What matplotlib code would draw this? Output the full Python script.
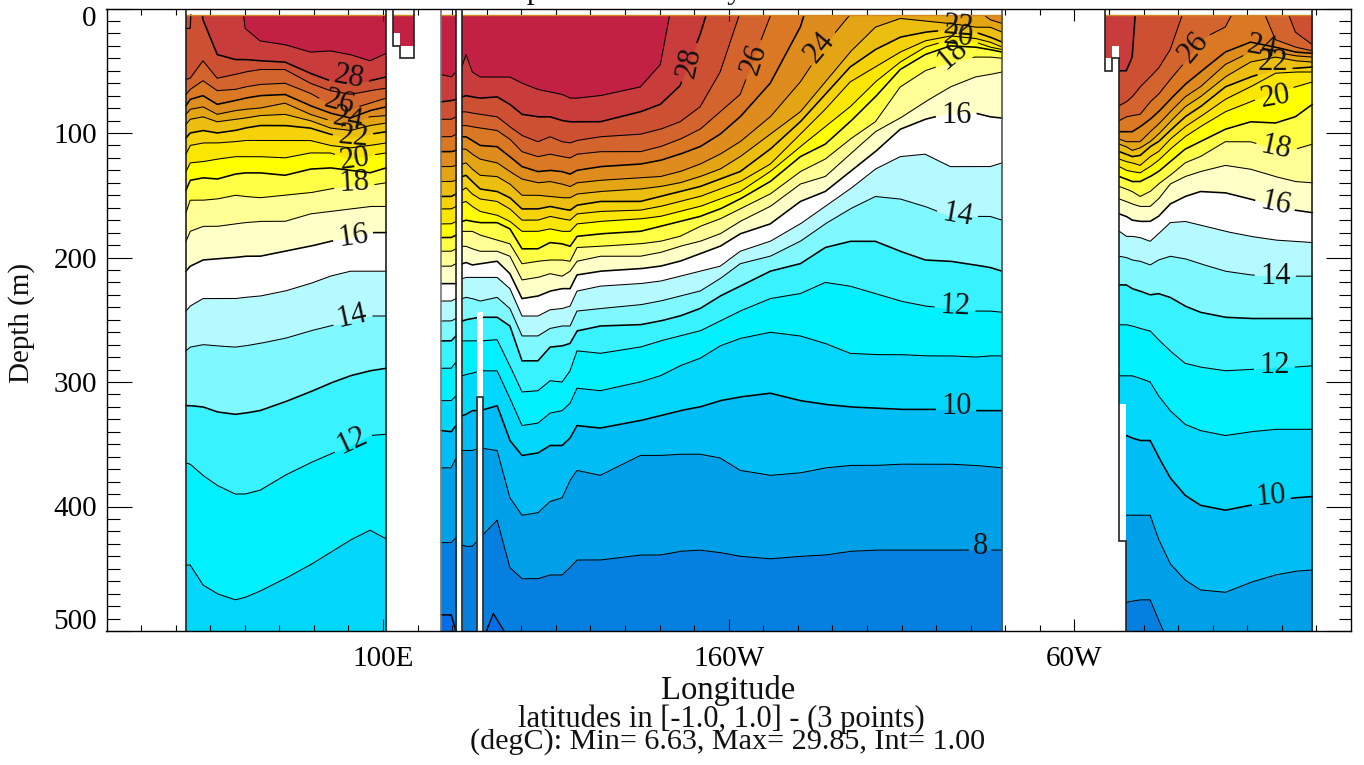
import numpy as np
import matplotlib
matplotlib.use("Agg")
import matplotlib.pyplot as plt
from matplotlib.patches import Rectangle
from matplotlib.transforms import ScaledTranslation

plt.rcParams['font.family'] = ['Liberation Serif', 'DejaVu Serif']

# Colour of each band, keyed by the isotherm at its warm side (degC)
BAND = {6: '#056EE8', 7: '#0580E0', 8: '#00A0E8', 9: '#00BEF5', 10: '#00D7FA', 11: '#00F0FF',
        12: '#38F3FF', 13: '#80F8FF', 14: '#B4FAFF', 15: '#FFFFFF', 16: '#FFFFC8', 17: '#FFFF96',
        18: '#FFFF46', 19: '#FFFF00', 20: '#FAE600', 21: '#F5D20A', 22: '#EBBE0F', 23: '#E4A514',
        24: '#DE8C1E', 25: '#DA7823', 26: '#D4642D', 27: '#CD5032', 28: '#C83C3C', 29: '#C32144'}

# Isotherm depths (m) by longitude; negative depth = isotherm outcrops at that longitude
# ---- Indian Ocean
lon_a = [43.0, 44.2, 47.9, 52.0, 57.2, 60.1, 64.4, 71.6, 78.9, 84.7, 90.5, 96.2, 100.9]
a29 = [-50, -50, -50, -50, -50, 16, 26, 29, 35, 34, 37, 42, 36]
a28 = [-50, -50, 9, 37, 41, 41, 42, 43, 52, 58, 60, 58, 55]
a27 = [57, 56, 42, 56, 53, 51, 49, 49, 60, 66, 69, 66, 64]
a26 = [69, 65, 58, 66, 65, 63, 61, 60, 68, 77, 81, 76, 72]
a25 = [78, 73, 70, 77, 74, 72, 70, 69, 78, 84, 88, 82, 79]
a24 = [85, 81, 79, 85, 82, 81, 80, 76, 85, 90, 93, 87, 86]
a23 = [93, 89, 87, 91, 89, 88, 86, 85, 90, 96, 98, 94, 92]
a22 = [104, 100, 98, 100, 98, 96, 94, 94, 96, 101, 104, 101, 99]
a21 = [117, 110, 108, 108, 107, 106, 106, 106, 106, 110, 112, 110, 108]
a20 = [131, 124, 123, 121, 119, 119, 119, 120, 116, 116, 121, 118, 116]
a19 = [146, 138, 136, 137, 133, 132, 132, 134, 129, 128, 130, 132, 128]
a18 = [164, 154, 154, 153, 150, 151, 152, 150, 148, 145, 142, 142, 140]
a17 = [187, 179, 175, 175, 173, 172, 171, 171, 165, 163, 161, 159, 159]
a16 = [211, 207, 202, 201, 200, 199, 199, 195, 191, 187, 184, 180, 180]
a15 = [243, 239, 233, 233, 233, 232, 231, 227, 221, 215, 211, 211, 211]
a14 = [275, 272, 270, 271, 272, 271, 269, 265, 259, 255, 251, 247, 247]
a13 = [319, 319, 320, 324, 326, 325, 323, 316, 308, 301, 295, 291, 289]
a12 = [365, 366, 375, 383, 390, 390, 387, 375, 365, 358, 351, 343, 342]
a11 = [447, 447, 463, 470, 475, 473, 468, 458, 447, 437, 427, 419, 426]
panel_a = {29: a29, 28: a28, 27: a27, 26: a26, 25: a25, 24: a24, 23: a23, 22: a22, 21: a21,
           20: a20, 19: a19, 18: a18, 17: a17, 16: a16, 15: a15, 14: a14, 13: a13, 12: a12, 11: a11}
# small closed contour in the north-west corner of the section
corner_lon = [43.0, 44.2, 44.4]
corner_dep = [16, 16, 5]

# ---- Sliver near 120E
lon_b = [116.8, 119.7, 121.1]
b29 = [53, 55, 51]
b28 = [75, 74, 73]
b27 = [89, 89, 87]
b26 = [103, 103, 101]
b25 = [115, 115, 114]
b24 = [127, 127, 126]
b23 = [139, 139, 138]
b22 = [151, 151, 149]
b21 = [161, 161, 159]
b20 = [173, 173, 171]
b19 = [184, 184, 182]
b18 = [195, 195, 193]
b17 = [207, 207, 205]
b16 = [221, 221, 221]
b15 = [235, 235, 233]
b14 = [251, 251, 249]
b13 = [267, 267, 263]
b12 = [289, 289, 284]
b11 = [315, 315, 311]
b10 = [339, 340, 335]
b9 = [369, 369, 361]
b8 = [429, 429, 425]
b7 = [487, 487, 500]
panel_b = {29: b29, 28: b28, 27: b27, 26: b26, 25: b25, 24: b24, 23: b23, 22: b22, 21: b21, 20: b20,
           19: b19, 18: b18, 17: b17, 16: b16, 15: b15, 14: b14, 13: b13, 12: b12, 11: b11, 10: b10,
           9: b9, 8: b8, 7: b7}

# ---- Pacific
lon_c = [122.9, 124.0, 125.8, 128.1, 133.0, 136.7, 140.2, 144.8, 148.3, 151.8, 154.1, 156.1, 162.8, 174.4,
         180.2, 185.9, 191.7, 197.5, 203.3, 212.0, 220.7, 227.9, 235.1, 242.4, 249.6, 256.8, 264.1, 271.3, 275.6, 279.1]
c29 = [46, 37, 51, 55, 55, 55, 60, 65, 67, 69, 72, 72, 70, 63, 45, -39] + [-50] * 14
c28 = [71, 70, 71, 72, 71, 77, 85, 87, 87, 90, 91, 91, 91, 83, 77, 62, 21, -31] + [-50] * 12
c27 = [83, 83, 84, 85, 87, 95, 102, 107, 103, 107, 108, 106, 103, 101, 97, 91, 79, 51, 3] + [-50] * 11
c26 = [94, 94, 95, 96, 98, 105, 115, 119, 117, 119, 120, 117, 115, 115, 111, 105, 97, 83, 69, 6] + [-50] * 10
c25 = [103, 103, 106, 110, 111, 119, 127, 131, 130, 131, 133, 130, 127, 125, 122, 117, 111, 101, 87, 60, 15] + [-50] * 9
c24 = [113, 113, 117, 121, 124, 131, 137, 140, 139, 141, 143, 140, 138, 136, 135, 131, 125, 117, 107, 87, 59, 29, 5, -50, -50, -50, -50, 0, 9, 12]
c23 = [125, 124, 129, 134, 135, 141, 150, 150, 151, 152, 152, 149, 147, 145, 143, 140, 135, 129, 119, 101, 83, 59, 35, 15, 8, 10, 12, 15, 15, 19]
c22 = [135, 134, 139, 145, 147, 152, 161, 161, 159, 161, 162, 158, 155, 155, 151, 147, 143, 137, 131, 113, 91, 69, 47, 33, 23, 19, 17, 19, 23, 27]
c21 = [146, 144, 149, 153, 155, 161, 170, 170, 167, 169, 170, 165, 163, 162, 159, 155, 151, 145, 139, 125, 101, 81, 59, 47, 35, 26, 22, 24, 27, 31]
c20 = [156, 155, 159, 163, 166, 171, 179, 179, 177, 179, 179, 173, 171, 169, 167, 163, 159, 153, 147, 131, 111, 95, 79, 59, 43, 31, 25, 27, 31, 33]
c19 = [171, 170, 171, 172, 172, 177, 193, 193, 188, 189, 191, 183, 181, 179, 175, 171, 167, 161, 153, 139, 119, 109, 91, 71, 49, 37, 30, 31, 33, 35]
c18 = [179, 179, 179, 182, 186, 189, 205, 203, 202, 202, 203, 192, 191, 189, 187, 183, 175, 169, 161, 149, 131, 121, 105, 91, 63, 50, 43, 39, 39, 40]
c17 = [191, 191, 193, 195, 195, 199, 218, 216, 213, 215, 211, 203, 199, 199, 196, 191, 187, 181, 171, 159, 141, 135, 117, 99, 88, 75, 63, 55, 53, 51]
c16 = [205, 204, 206, 205, 203, 213, 233, 231, 227, 225, 225, 214, 211, 209, 207, 203, 197, 191, 181, 173, 155, 147, 131, 115, 97, 89, 84, 84, 87, 88]
c15 = [217, 216, 216, 216, 216, 225, 247, 247, 242, 241, 239, 227, 223, 221, 219, 215, 211, 207, 195, 187, 173, 159, 145, 129, 119, 117, 127, 127, 127, 124]
c14 = [233, 232, 233, 235, 232, 241, 263, 263, 257, 255, 255, 243, 241, 238, 235, 231, 227, 217, 205, 199, 187, 173, 161, 151, 153, 159, 167, 167, 167, 170]
c13 = [251, 250, 249, 248, 248, 255, 283, 283, 272, 271, 269, 259, 255, 254, 251, 247, 241, 231, 223, 211, 205, 192, 187, 187, 195, 202, 203, 206, 208, 211]
c12 = [267, 267, 267, 267, 266, 287, 308, 307, 299, 300, 291, 275, 277, 272, 267, 263, 259, 251, 243, 233, 229, 220, 223, 229, 235, 239, 241, 243, 243, 244]
c11 = [295, 294, 293, 291, 291, 313, 335, 333, 325, 323, 317, 305, 307, 300, 295, 287, 281, 271, 265, 260, 263, 269, 277, 278, 278, 279, 279, 280, 279, 279]
c10 = [327, 326, 323, 323, 319, 347, 359, 357, 351, 351, 345, 335, 337, 331, 327, 323, 320, 315, 312, 309, 315, 318, 320, 321, 322, 322, 322, 323, 323, 323]
c9 = [355, 355, 355, 353, 355, 393, 407, 405, 396, 393, 379, 371, 375, 359, 359, 358, 358, 361, 371, 375, 373, 369, 367, 367, 366, 366, 366, 367, 368, 369]
c8 = [431, 432, 432, 425, 411, 449, 458, 458, 455, 455, 449, 443, 443, 439, 439, 436, 435, 437, 440, 442, 440, 439, 436, 435, 435, 435, 435, 435, 435, 435]
panel_c = {29: c29, 28: c28, 27: c27, 26: c26, 25: c25, 24: c24, 23: c23, 22: c22, 21: c21, 20: c20,
           19: c19, 18: c18, 17: c17, 16: c16, 15: c15, 14: c14, 13: c13, 12: c12, 11: c11, 10: c10,
           9: c9, 8: c8}
# closed 7 degC contour at the sea floor of the Pacific section
lon_c7 = [129.9, 131.9, 135.0]
c7 = [500, 486, 500]

# ---- Atlantic
lon_d = [308.9, 313.0, 315.0, 316.7, 319.0, 321.9, 324.3, 327.7, 332.0, 336.4, 343.6, 350.9, 358.1, 363.9, 368.8]
d29 = [-50] * 15
d28 = [50, 50, 50, 39] + [-50] * 11
d27 = [78, 78, 75, 71, 63, 55, 48, 33, -1, -50, -50, -50, -23, 19, 29]
d26 = [90, 90, 87, 86, 85, 75, 69, 57, 43, 25, 15, -23, 25, 31, 34]
d25 = [99, 99, 99, 99, 95, 89, 83, 73, 61, 51, 35, 27, 31, 35, 36]
d24 = [105, 105, 107, 107, 107, 99, 93, 83, 71, 63, 45, 35, 35, 38, 39]
d23 = [109, 109, 111, 114, 112, 107, 101, 91, 79, 71, 55, 43, 39, 42, 43]
d22 = [115, 115, 117, 119, 118, 111, 107, 98, 87, 79, 63, 55, 49, 48, 47]
d21 = [121, 121, 123, 124, 126, 119, 115, 105, 95, 87, 73, 63, 52, 51, 51]
d20 = [127, 127, 130, 131, 132, 127, 122, 113, 103, 95, 83, 75, 67, 63, 59]
d19 = [135, 135, 137, 139, 139, 135, 131, 123, 113, 107, 97, 91, 92, 87, 77]
d18 = [143, 143, 145, 147, 151, 147, 141, 134, 124, 119, 107, 107, 113, 113, 109]
d17 = [153, 153, 155, 157, 159, 159, 153, 141, 135, 131, 126, 129, 135, 139, 140]
d16 = [165, 165, 167, 170, 171, 171, 167, 157, 151, 147, 148, 153, 159, 162, 164]
d15 = [179, 179, 183, 183, 184, 187, 181, 172, 171, 174, 179, 183, 186, 187, 188]
d14 = [199, 199, 200, 202, 203, 206, 202, 199, 201, 205, 211, 214, 215, 215, 215]
d13 = [222, 222, 222, 225, 227, 230, 229, 232, 239, 244, 248, 249, 249, 249, 249]
d12 = [254, 254, 254, 255, 257, 259, 266, 275, 285, 288, 291, 290, 288, 288, 287]
d11 = [295, 295, 295, 295, 297, 300, 311, 323, 334, 339, 343, 340, 338, 338, 338]
d10 = [343, 343, 343, 345, 347, 347, 360, 377, 391, 399, 403, 399, 395, 393, 392]
d9 = [407, 407, 407, 407, 407, 407, 426, 446, 459, 467, 469, 461, 455, 452, 451]
d8 = [477, 477, 477, 476, 475, 475, 491, 512] + [540] * 7
panel_d = {29: d29, 28: d28, 27: d27, 26: d26, 25: d25, 24: d24, 23: d23, 22: d22, 21: d21, 20: d20,
           19: d19, 18: d18, 17: d17, 16: d16, 15: d15, 14: d14, 13: d13, 12: d12, 11: d11, 10: d10,
           9: d9, 8: d8}

# Land mask outlines (longitude, depth)
land_a_lon = [102.9, 102.9, 104.9, 104.9, 109.0, 109.0]
land_a_dep = [0, 30, 30, 40, 40, 0]
land_bc_lon = [121.1, 122.9]
land_strip_lon = [127.2, 128.9]
land_strip_top = 244
land_strip_box = 312
land_d_lon = [308.9, 308.9, 310.9, 310.9, 313.0, 313.0, 315.0, 315.0]
land_d_dep = [0, 50, 50, 40, 40, 428, 428, 500]

# Contour labels: text, lon, depth, rotation
lab_text = ['28', '26', '24', '22', '20', '18', '16', '14', '12',
            '28', '26', '24', '22', '20', '18', '16', '14', '12', '10', '8',
            '26', '24', '22', '20', '18', '16', '14', '12', '10']
lab_lon = [90.2, 87.3, 89.9, 91.3, 91.9, 91.6, 91.3, 91.0, 91.0,
           188.5, 207.3, 226.4, 266.4, 266.4, 264.6, 265.8, 266.1, 265.5, 265.8, 272.7,
           334.4, 354.3, 357.5, 358.1, 358.4, 358.1, 358.1, 357.8, 356.7]
lab_dep = [55, 76, 89, 103, 121, 140, 183, 247, 347,
           43, 41, 31, 15, 23, 37, 86, 166, 239, 320, 432,
           31, 31, 43, 71, 112, 157, 215, 287, 392]
lab_rot = [-10, -15, -10, -5, 8, 3, 8, 12, 25,
           78, 72, 50, -5, -5, 40, 0, -10, -3, 0, 0,
           50, -10, 0, 10, -12, -12, 0, 0, 5]

xtick_major = [100, 200, 300]
xtick_labels = ['100E', '160W', '60W']
ytick_major = [0, 100, 200, 300, 400, 500]

W, H = 1364, 765
fig = plt.figure(figsize=(W / 100, H / 100), dpi=100)
ax = fig.add_axes([106.5 / W, 1 - 631 / H, (1351 - 106.5) / W, (631 - 8.5) / H])
ax.set_xlim(20, 380)
ax.set_ylim(500, 0)

clip = Rectangle((20, 5), 360, 495, transform=ax.transData)
PX_LON = (1351 - 106.5) / 360
PX_DEP = (631 - 8.5) / 500


def is_thick(t):
    return (t - 1) % 3 == 0


def broken_line(lon, dep, t):
    """The isotherm with a gap where its own number is written."""
    xs = np.union1d(lon, np.linspace(lon[0], lon[-1], 1500))
    ys = np.interp(xs, lon, dep)
    for s, lx, ly in zip(lab_text, lab_lon, lab_dep):
        if int(s) == t and lon[0] <= lx <= lon[-1]:
            dist = np.hypot((xs - lx) * PX_LON, (ys - ly) * PX_DEP)
            ys = np.where(dist < (21 if len(s) == 2 else 12), np.nan, ys)
    return xs, ys


def draw_panel(lon, panel):
    ax.fill_between(lon, 5, 500, color=BAND[29], lw=0, zorder=1)
    for t in sorted(panel, reverse=True):
        poly = ax.fill_between(lon, panel[t], 500, color=BAND[t - 1], lw=0, zorder=1)
        poly.set_clip_path(clip)
    for t in sorted(panel, reverse=True):
        xs, ys = broken_line(lon, panel[t], t)
        ln, = ax.plot(xs, ys, color='black', lw=1.15 if is_thick(t) else 0.75, zorder=2,
                      solid_joinstyle='round')
        ln.set_clip_path(clip)
    ax.plot(lon, [5] * len(lon), color='#D08A20', lw=1.0, zorder=2.5, solid_capstyle='butt')


draw_panel(lon_a, panel_a)
draw_panel(lon_b, panel_b)
draw_panel(lon_c, panel_c)
draw_panel(lon_d, panel_d)

ax.plot(corner_lon, corner_dep, color='black', lw=0.9, zorder=2.2)

# closed 7 degC contour, Pacific
ax.fill_between(lon_c7, c7, 500, color=BAND[6], lw=0, zorder=2)
ax.plot(lon_c7, c7, color='black', lw=1.0, zorder=2.2)

# small coastal fragment east of 100E
ax.fill_between([102.9, 109.0], 5, 30, color=BAND[29], lw=0, zorder=1)
ax.plot([102.9, 109.0], [5, 5], color='#D08A20', lw=1.0, zorder=2.5)
ax.fill_between([102.9, 104.9], 20, 30, color='white', lw=0, zorder=3)
# Atlantic coast notches and land
ax.fill_between([308.4, 310.9], 40, 500, color='white', lw=0, zorder=3)
ax.fill_between([310.9, 313.0], 30, 500, color='white', lw=0, zorder=3)
ax.fill_between([313.0, 315.0], 318, 500, color='white', lw=0, zorder=3)
# Pacific island strip
ax.fill_between(land_strip_lon, land_strip_top, 500, color='white', lw=0, zorder=3)

edge = dict(color='#222222', lw=1.2, zorder=4, solid_joinstyle='miter')
ax.plot(land_a_lon, land_a_dep, **edge)
ax.plot(land_d_lon, land_d_dep, **edge)
ax.plot([43.0, 43.0], [0, 500], **edge)
ax.plot([100.9, 100.9], [0, 500], **edge)
ax.plot([116.8, 116.8], [0, 500], color='#777777', lw=1.2, zorder=4)
for xv in land_bc_lon:
    ax.plot([xv, xv], [0, 500], **edge)
ax.plot([279.1, 279.1], [0, 500], color='#555555', lw=1.2, zorder=4)
ax.plot([368.8, 368.8], [0, 500], **edge)
ax.plot([land_strip_lon[0], land_strip_lon[0], land_strip_lon[1], land_strip_lon[1]],
        [500, land_strip_box, land_strip_box, 500], color='#333333', lw=1.3, zorder=4)

# contour labels
for s, x, y, r in zip(lab_text, lab_lon, lab_dep, lab_rot):
    ax.text(x, y, s, rotation=r, rotation_mode='anchor', ha='center', va='center',
            fontsize=22, color='#111111', zorder=5)

# axes furniture
ax.set_xticks(xtick_major)
ax.set_xticklabels(xtick_labels, fontsize=21)
ax.set_xticks(np.arange(30, 380, 10), minor=True)
ax.set_yticks(ytick_major)
ax.set_yticklabels([str(v) for v in ytick_major], fontsize=21)
ax.set_yticks(np.arange(0, 501, 10), minor=True)
ax.tick_params(which='major', axis='x', direction='in', top=True, bottom=True, length=8.6, width=0.8, pad=11)
ax.tick_params(which='minor', axis='x', direction='in', top=True, bottom=True, length=4.3, width=0.8)
ax.tick_params(which='major', axis='y', direction='in', left=True, right=True, length=18, width=0.8, pad=7)
ax.tick_params(which='minor', axis='y', direction='in', left=True, right=True, length=9, width=0.8)
labs = ax.get_yticklabels()
labs[0].set_va('top')
labs[0].set_transform(labs[0].get_transform() + ScaledTranslation(0, 3 / 100, fig.dpi_scale_trans))
labs[-1].set_va('bottom')
labs[-1].set_transform(labs[-1].get_transform() + ScaledTranslation(0, -4 / 100, fig.dpi_scale_trans))
for sp in ax.spines.values():
    sp.set_linewidth(1.0)
    sp.set_zorder(6)

fig.text(22 / W, 1 - 323 / H, 'Depth (m)', rotation=90, ha='center', va='center', fontsize=21, color='#111111')
fig.text(728 / W, 1 - 690 / H, 'Longitude', ha='center', va='center', fontsize=23.5, color='#111111')
fig.text(721 / W, 1 - 719 / H, 'latitudes in [-1.0, 1.0] - (3 points)', ha='center', va='center', fontsize=22, color='#111111')
fig.text(728 / W, 1 - 742 / H, '(degC): Min= 6.63, Max= 29.85, Int= 1.00', ha='center', va='center', fontsize=21.7, color='#111111')
fig.text(472 / W, 1 + 2 / H, 'Temperature Monthly Mean', ha='left', va='baseline', fontsize=22.3, color='#111111')

fig.savefig('out.png', dpi=100)
